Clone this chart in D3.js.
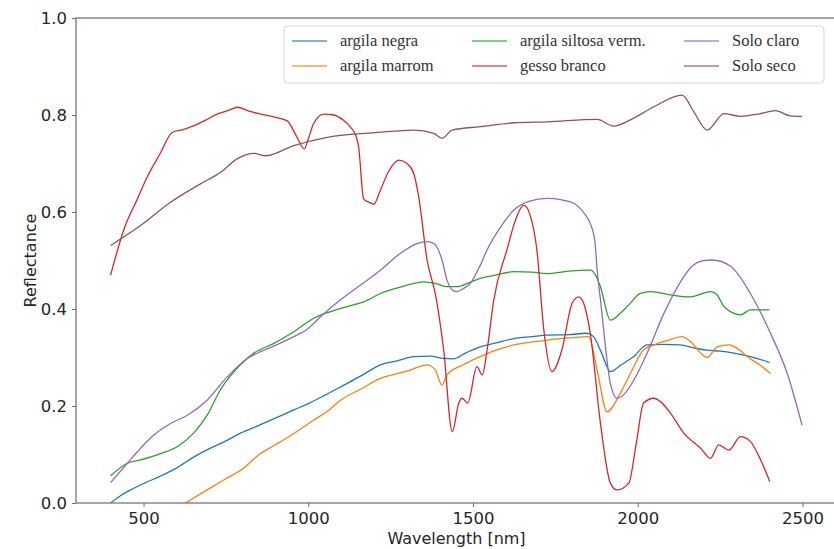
<!DOCTYPE html>
<html>
<head>
<meta charset="utf-8">
<script src="https://cdn.jsdelivr.net/npm/d3@7"></script>
<style>
  body { margin: 0; background: #fff; }
  svg { display: block; }
</style>
</head>
<body>
<svg width="834" height="549"></svg>
<script>
// spectra: [wavelength nm, reflectance]
var argilaNegra = [[400,0.0],[430,0.015],[461,0.027],[500,0.04],[550,0.055],[600,0.072],[653,0.095],[700,0.112],[750,0.128],[794,0.144],[850,0.16],[900,0.175],[956,0.192],[1000,0.205],[1050,0.222],[1108,0.243],[1160,0.262],[1219,0.285],[1270,0.293],[1320,0.302],[1370,0.303],[1411,0.298],[1440,0.297],[1480,0.31],[1522,0.322],[1570,0.33],[1624,0.339],[1680,0.343],[1725,0.346],[1790,0.347],[1846,0.35],[1866,0.343],[1890,0.31],[1917,0.271],[1950,0.285],[1988,0.302],[2028,0.326],[2080,0.327],[2129,0.326],[2170,0.32],[2211,0.315],[2250,0.313],[2292,0.309],[2342,0.302],[2400,0.29]];

var argilaMarrom = [[627,0.0],[693,0.027],[750,0.05],[800,0.07],[855,0.102],[900,0.12],[960,0.145],[1017,0.171],[1060,0.19],[1098,0.212],[1160,0.235],[1219,0.257],[1260,0.265],[1300,0.272],[1361,0.285],[1386,0.274],[1406,0.243],[1421,0.264],[1470,0.285],[1522,0.302],[1570,0.315],[1624,0.326],[1680,0.332],[1725,0.336],[1780,0.34],[1826,0.342],[1851,0.343],[1877,0.274],[1907,0.188],[1947,0.226],[1980,0.27],[2018,0.316],[2049,0.326],[2090,0.335],[2135,0.343],[2165,0.33],[2191,0.309],[2211,0.30],[2241,0.322],[2277,0.326],[2310,0.315],[2332,0.302],[2370,0.285],[2403,0.267]];

var argilaSiltosa = [[400,0.056],[451,0.082],[491,0.089],[552,0.102],[602,0.116],[652,0.144],[693,0.181],[733,0.233],[794,0.285],[835,0.309],[896,0.329],[956,0.353],[1017,0.381],[1070,0.395],[1118,0.405],[1170,0.415],[1219,0.432],[1280,0.445],[1351,0.456],[1390,0.452],[1421,0.446],[1452,0.446],[1490,0.455],[1522,0.463],[1570,0.47],[1624,0.477],[1680,0.476],[1725,0.473],[1790,0.478],[1856,0.48],[1872,0.47],[1887,0.446],[1917,0.377],[1947,0.391],[1975,0.41],[2008,0.432],[2039,0.436],[2100,0.429],[2160,0.425],[2221,0.436],[2240,0.43],[2262,0.405],[2312,0.388],[2342,0.398],[2400,0.398]];

var gessoBranco = [[400,0.47],[443,0.569],[480,0.625],[511,0.672],[550,0.72],[587,0.764],[620,0.77],[653,0.778],[690,0.79],[724,0.802],[760,0.81],[785,0.816],[820,0.808],[855,0.802],[900,0.795],[936,0.788],[966,0.754],[988,0.73],[1000,0.75],[1016,0.782],[1047,0.802],[1077,0.8],[1105,0.79],[1128,0.775],[1143,0.76],[1153,0.734],[1168,0.627],[1185,0.62],[1199,0.616],[1219,0.645],[1245,0.685],[1275,0.707],[1300,0.7],[1320,0.68],[1335,0.632],[1361,0.50],[1386,0.43],[1411,0.316],[1437,0.147],[1457,0.206],[1467,0.216],[1484,0.206],[1512,0.281],[1528,0.264],[1543,0.316],[1563,0.418],[1603,0.522],[1630,0.585],[1654,0.614],[1675,0.59],[1694,0.522],[1715,0.357],[1740,0.271],[1770,0.316],[1801,0.412],[1821,0.425],[1836,0.412],[1856,0.35],[1887,0.164],[1917,0.041],[1937,0.027],[1973,0.041],[1995,0.12],[2018,0.206],[2049,0.216],[2069,0.209],[2100,0.185],[2140,0.144],[2191,0.113],[2221,0.092],[2246,0.12],[2277,0.109],[2312,0.137],[2342,0.127],[2373,0.089],[2401,0.044]];

var soloClaro = [[400,0.042],[451,0.082],[491,0.113],[531,0.14],[582,0.164],[633,0.181],[693,0.212],[754,0.26],[815,0.298],[855,0.312],[900,0.325],[956,0.343],[1000,0.36],[1037,0.384],[1098,0.419],[1160,0.45],[1219,0.48],[1280,0.515],[1330,0.535],[1361,0.539],[1381,0.535],[1406,0.501],[1421,0.46],[1440,0.438],[1452,0.436],[1470,0.442],[1492,0.453],[1522,0.49],[1543,0.522],[1580,0.565],[1624,0.604],[1670,0.622],[1725,0.628],[1770,0.625],[1806,0.618],[1840,0.595],[1856,0.576],[1870,0.54],[1877,0.48],[1887,0.419],[1917,0.247],[1937,0.216],[1960,0.225],[1988,0.253],[2028,0.308],[2079,0.39],[2129,0.455],[2165,0.488],[2195,0.499],[2226,0.501],[2282,0.488],[2342,0.432],[2403,0.35],[2454,0.267],[2499,0.16]];

var soloSeco = [[400,0.531],[491,0.572],[582,0.62],[673,0.658],[734,0.682],[785,0.71],[835,0.721],[870,0.716],[956,0.737],[1058,0.754],[1210,0.764],[1320,0.769],[1381,0.762],[1406,0.752],[1437,0.769],[1522,0.776],[1624,0.784],[1725,0.786],[1877,0.791],[1927,0.777],[1978,0.79],[2049,0.817],[2135,0.841],[2170,0.807],[2211,0.769],[2262,0.803],[2312,0.797],[2373,0.803],[2418,0.809],[2464,0.798],[2499,0.797]];

var seriesNames = ["argila negra", "argila marrom", "argila siltosa verm.", "gesso branco", "Solo claro", "Solo seco"];
var seriesData = [argilaNegra, argilaMarrom, argilaSiltosa, gessoBranco, soloClaro, soloSeco];
var seriesColors = ["#1f77b4", "#ff7f0e", "#2ca02c", "#d62728", "#9467bd", "#8c564b"];

var xTicks = [500, 1000, 1500, 2000, 2500];
var yTicks = [0, 0.2, 0.4, 0.6, 0.8, 1.0];

var svg = d3.select("svg");
var plotLeft = 76, plotRight = 837, plotTop = 18, plotBottom = 503;

var x = d3.scaleLinear().domain([295, 2605]).range([plotLeft, plotRight]);
var y = d3.scaleLinear().domain([0, 1]).range([plotBottom, plotTop]);

svg.append("defs").append("clipPath")
    .attr("id", "plotclip")
  .append("rect")
    .attr("x", plotLeft).attr("y", plotTop)
    .attr("width", plotRight - plotLeft).attr("height", plotBottom - plotTop);

var line = d3.line()
    .curve(d3.curveMonotoneX)
    .x(function(d) { return x(d[0]); })
    .y(function(d) { return y(d[1]); });

svg.append("g")
    .attr("clip-path", "url(#plotclip)")
  .selectAll("path")
  .data(seriesData)
  .enter().append("path")
    .attr("d", line)
    .attr("fill", "none")
    .attr("stroke", function(d, i) { return seriesColors[i]; })
    .attr("stroke-width", 1.3)
    .attr("stroke-linejoin", "round");

// frame
svg.append("rect")
    .attr("x", plotLeft).attr("y", plotTop)
    .attr("width", plotRight - plotLeft).attr("height", plotBottom - plotTop)
    .attr("fill", "none")
    .attr("stroke", "#6b6b6b")
    .attr("stroke-width", 1.2);

var xAxis = svg.append("g")
    .attr("transform", "translate(0," + plotBottom + ")")
    .call(d3.axisBottom(x).tickValues(xTicks).tickSize(4).tickPadding(5).tickFormat(d3.format("d")));

var yAxis = svg.append("g")
    .attr("transform", "translate(" + plotLeft + ",0)")
    .call(d3.axisLeft(y).tickValues(yTicks).tickSize(4).tickPadding(5).tickFormat(d3.format(".1f")));

[xAxis, yAxis].forEach(function(a) {
  a.select(".domain").remove();
  a.selectAll(".tick line").attr("stroke", "#6b6b6b");
  a.selectAll(".tick text")
      .attr("fill", "#262626")
      .style("font-family", "DejaVu Sans")
      .style("font-size", "16.5px");
});

svg.append("text")
    .attr("x", (plotLeft + plotRight) / 2)
    .attr("y", 544)
    .attr("text-anchor", "middle")
    .attr("fill", "#262626")
    .style("font-family", "DejaVu Sans")
    .style("font-size", "16px")
    .text("Wavelength [nm]");

svg.append("text")
    .attr("transform", "translate(36," + ((plotTop + plotBottom) / 2) + ") rotate(-90)")
    .attr("text-anchor", "middle")
    .attr("fill", "#262626")
    .style("font-family", "DejaVu Sans")
    .style("font-size", "16px")
    .text("Reflectance");

// legend, 3 columns x 2 rows
var legend = svg.append("g");
legend.append("rect")
    .attr("x", 284).attr("y", 26)
    .attr("width", 540).attr("height", 57)
    .attr("rx", 4)
    .attr("fill", "#fff")
    .attr("fill-opacity", 0.85)
    .attr("stroke", "#d6d6d6");

var colX = [292, 472, 684];
var rowY = [41, 66];

var item = legend.selectAll("g.item")
  .data(seriesNames)
  .enter().append("g")
    .attr("class", "item")
    .attr("transform", function(d, i) {
      return "translate(" + colX[Math.floor(i / 2)] + "," + rowY[i % 2] + ")";
    });

item.append("line")
    .attr("x1", 0).attr("x2", 35)
    .attr("stroke", function(d, i) { return seriesColors[i]; })
    .attr("stroke-opacity", 0.75)
    .attr("stroke-width", 1.5);

item.append("text")
    .attr("x", 48)
    .attr("dy", "0.3em")
    .attr("fill", "#333")
    .style("font-family", "Liberation Serif")
    .style("font-size", "16.5px")
    .text(function(d) { return d; });
</script>
</body>
</html>
